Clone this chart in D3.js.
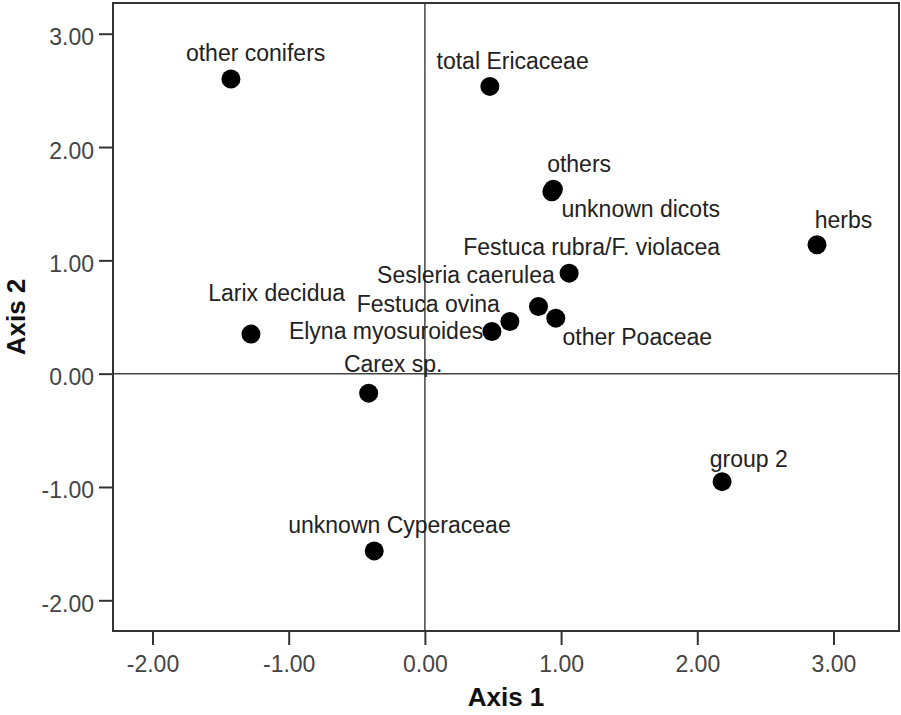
<!DOCTYPE html>
<html>
<head>
<meta charset="utf-8">
<script src="https://cdn.jsdelivr.net/npm/d3@7"></script>
<style>
  html, body { margin: 0; padding: 0; background: #fff; }
  svg { display: block; }
  text { font-family: Arial, "Liberation Sans", sans-serif; }
</style>
</head>
<body>
<svg id="chart" width="901" height="715"></svg>
<script>
// Ordination scores of the pollen taxa on the first two axes
const taxa = [
  "other conifers", "total Ericaceae", "others", "unknown dicots", "herbs",
  "Festuca rubra/F. violacea", "Sesleria caerulea", "other Poaceae",
  "Festuca ovina", "Elyna myosuroides", "Larix decidua", "Carex sp.",
  "group 2", "unknown Cyperaceae"
];
const axis1 = [-1.424, 0.477, 0.943, 0.932, 2.879, 1.059, 0.834, 0.961, 0.624, 0.492, -1.277, -0.413, 2.182, -0.372];
const axis2 = [ 2.600, 2.535, 1.627, 1.605, 1.137, 0.887, 0.592, 0.490, 0.460, 0.372,  0.349, -0.172, -0.953, -1.564];

const xTicks = [-2, -1, 0, 1, 2, 3];
const yTicks = [-2, -1, 0, 1, 2, 3];

// Label placement around each point: [dx, dy, text-anchor]
const labelPlacement = [
  [-45, -17.6, "start"], [-53.3, -17.4, "start"], [-6.2, -17.2, "start"],
  [9.7, 25.3, "start"], [-2.3, -16.7, "start"], [-106, -18.3, "start"],
  [16.3, -24, "end"], [6.7, 26.7, "start"], [-10, -10, "end"],
  [-8.7, 7.3, "end"], [-42.7, -33.6, "start"], [-24.7, -21.6, "start"],
  [-12.3, -15, "start"], [-86, -17.7, "start"]
];

const svg = d3.select("#chart");
const plot = { left: 113, top: 3, right: 899, bottom: 631 };

const x = d3.scaleLinear().domain([-2.29, 3.481]).range([plot.left, plot.right]);
const y = d3.scaleLinear().domain([-2.271, 3.271]).range([plot.bottom, plot.top]);

svg.append("rect").attr("width", 901).attr("height", 715).attr("fill", "#fff");

// zero reference lines
svg.append("line")
  .attr("x1", x(0)).attr("x2", x(0)).attr("y1", plot.top).attr("y2", plot.bottom)
  .attr("stroke", "#444").attr("stroke-width", 1.5);
svg.append("line")
  .attr("x1", plot.left).attr("x2", plot.right).attr("y1", y(0)).attr("y2", y(0))
  .attr("stroke", "#444").attr("stroke-width", 1.5);

// axes: two decimals, plain hyphen for negatives
const fmt = d3.formatLocale({
  decimal: ".", thousands: ",", grouping: [3], currency: ["", ""], minus: "-"
}).format(".2f");

const gx = svg.append("g")
  .attr("transform", `translate(0,${plot.bottom})`)
  .call(d3.axisBottom(x).tickValues(xTicks).tickFormat(fmt).tickSize(14).tickSizeOuter(0));
gx.select(".domain").remove();
gx.selectAll(".tick line").attr("stroke", "#333").attr("stroke-width", 2);
gx.selectAll(".tick text")
  .attr("y", 41).attr("dy", 0)
  .attr("fill", "#444").attr("font-size", 23)
  .style("font-family", "Arial, 'Liberation Sans', sans-serif");

const gy = svg.append("g")
  .attr("transform", `translate(${plot.left},0)`)
  .call(d3.axisLeft(y).tickValues(yTicks).tickFormat(fmt).tickSize(14).tickPadding(5).tickSizeOuter(0));
gy.select(".domain").remove();
gy.selectAll(".tick line").attr("stroke", "#333").attr("stroke-width", 2);
gy.selectAll(".tick text")
  .attr("dy", 11)
  .attr("fill", "#444").attr("font-size", 23)
  .style("font-family", "Arial, 'Liberation Sans', sans-serif");

// plot frame
svg.append("rect")
  .attr("x", plot.left).attr("y", plot.top)
  .attr("width", plot.right - plot.left).attr("height", plot.bottom - plot.top)
  .attr("fill", "none").attr("stroke", "#333").attr("stroke-width", 2);

// points
const idx = d3.range(taxa.length);
svg.append("g").selectAll("circle")
  .data(idx).join("circle")
  .attr("cx", i => x(axis1[i]))
  .attr("cy", i => y(axis2[i]))
  .attr("r", 9.5)
  .attr("fill", "#000");

// point labels
svg.append("g").selectAll("text")
  .data(idx).join("text")
  .attr("x", i => x(axis1[i]) + labelPlacement[i][0])
  .attr("y", i => y(axis2[i]) + labelPlacement[i][1])
  .attr("text-anchor", i => labelPlacement[i][2])
  .attr("font-size", 23)
  .attr("fill", "#222")
  .text(i => taxa[i]);

// axis titles
svg.append("text")
  .attr("x", (plot.left + plot.right) / 2).attr("y", 706)
  .attr("text-anchor", "middle")
  .attr("font-size", 26).attr("font-weight", "bold").attr("fill", "#111")
  .text("Axis 1");
svg.append("text")
  .attr("transform", `translate(25,${(plot.top + plot.bottom) / 2}) rotate(-90)`)
  .attr("text-anchor", "middle")
  .attr("font-size", 26).attr("font-weight", "bold").attr("fill", "#111")
  .text("Axis 2");
</script>
</body>
</html>
